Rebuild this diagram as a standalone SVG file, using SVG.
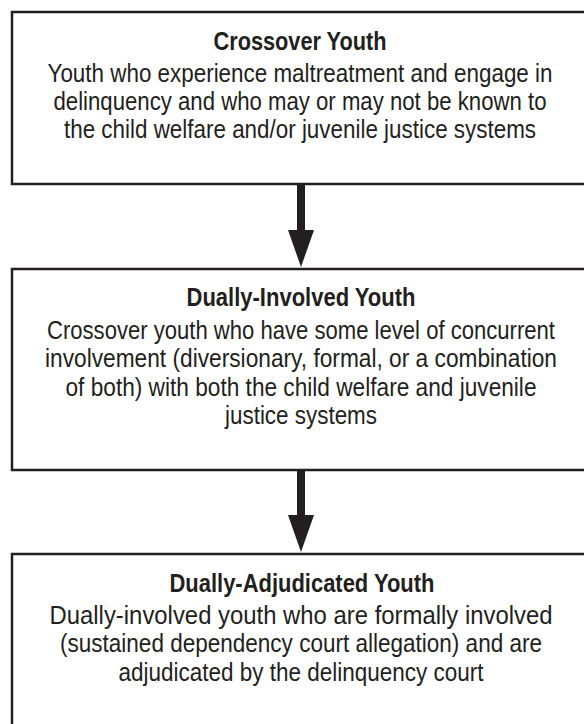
<svg xmlns="http://www.w3.org/2000/svg" width="584" height="724" viewBox="0 0 584 724">
<style>
.box{fill:#fff;stroke:#231f20;stroke-width:2.5}
.t{font-family:"Liberation Sans",Arial,sans-serif;font-size:25px;fill:#231f20;text-anchor:middle}
.h{font-weight:bold}
.arr{fill:#231f20}
</style>
<rect width="584" height="724" fill="#fff"/>
<g id="connectors">
<rect class="arr" x="297" y="184" width="8" height="48"/>
<polygon class="arr" points="288,230 314,230 301,267"/>
<rect class="arr" x="297" y="470" width="8" height="47"/>
<polygon class="arr" points="288,515 314,515 301,552"/>
</g>
<g id="crossover">
<rect class="box" x="12" y="12" width="576" height="172"/>
<text class="t h" x="300" y="50" textLength="173" lengthAdjust="spacingAndGlyphs">Crossover Youth</text>
<text class="t" x="300" y="82" textLength="505" lengthAdjust="spacingAndGlyphs">Youth who experience maltreatment and engage in</text>
<text class="t" x="300" y="110" textLength="493" lengthAdjust="spacingAndGlyphs">delinquency and who may or may not be known to</text>
<text class="t" x="300" y="138" textLength="472" lengthAdjust="spacingAndGlyphs">the child welfare and/or juvenile justice systems</text>
</g>
<g id="dually-involved">
<rect class="box" x="12" y="269" width="576" height="201"/>
<text class="t h" x="301" y="306" textLength="229" lengthAdjust="spacingAndGlyphs">Dually-Involved Youth</text>
<text class="t" x="301" y="339" textLength="508" lengthAdjust="spacingAndGlyphs">Crossover youth who have some level of concurrent</text>
<text class="t" x="301" y="367" textLength="512" lengthAdjust="spacingAndGlyphs">involvement (diversionary, formal, or a combination</text>
<text class="t" x="301" y="396" textLength="471" lengthAdjust="spacingAndGlyphs">of both) with both the child welfare and juvenile</text>
<text class="t" x="301" y="424" textLength="152" lengthAdjust="spacingAndGlyphs">justice systems</text>
</g>
<g id="dually-adjudicated">
<rect class="box" x="12" y="554" width="576" height="200"/>
<text class="t h" x="302" y="592" textLength="265" lengthAdjust="spacingAndGlyphs">Dually-Adjudicated Youth</text>
<text class="t" x="301" y="624" textLength="503" lengthAdjust="spacingAndGlyphs">Dually-involved youth who are formally involved</text>
<text class="t" x="301" y="652" textLength="482" lengthAdjust="spacingAndGlyphs">(sustained dependency court allegation) and are</text>
<text class="t" x="301" y="681" textLength="365" lengthAdjust="spacingAndGlyphs">adjudicated by the delinquency court</text>
</g>
</svg>
